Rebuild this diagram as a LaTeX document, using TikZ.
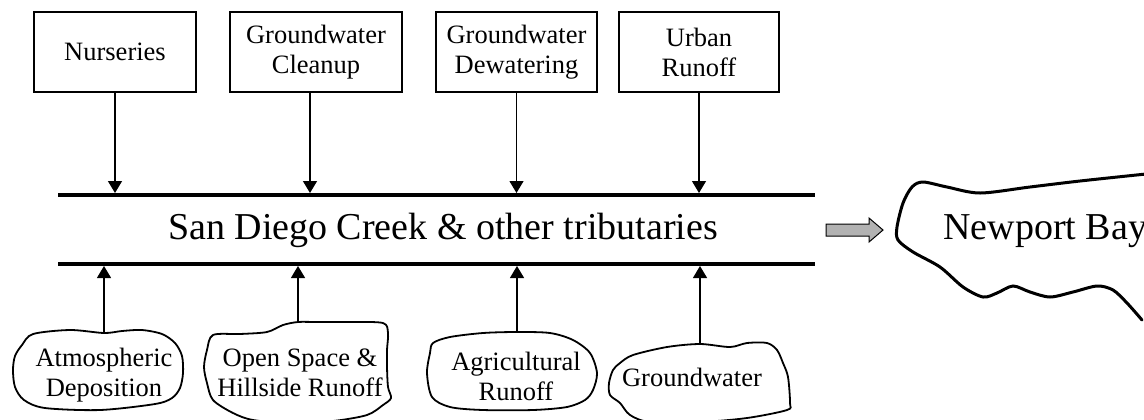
\documentclass[tikz,border=0pt]{standalone}
\usepackage{fontspec}
\setmainfont{Liberation Serif}
\usepackage{tikz}
\usetikzlibrary{arrows.meta}
\newcommand{\smalllabelsize}{\fontsize{13.25pt}{15pt}\selectfont}
\newcommand{\largelabelsize}{\fontsize{19pt}{22pt}\selectfont}
\tikzstyle{source}=[draw, line width=0.6pt, inner sep=0, minimum height=40pt, align=center, font=\smalllabelsize]
\tikzstyle{cloudtext}=[inner sep=0, align=center, font=\smalllabelsize]
\tikzstyle{cloudline}=[line width=0.9pt, line join=round]
\tikzstyle{bayline}=[line width=1.5pt, line cap=round]
\tikzstyle{flow}=[line width=0.6pt, shorten >=1pt, -{Triangle[width=7pt, length=6pt]}]
\tikzstyle{bar}=[line width=2pt]
\tikzstyle{bigarrow}=[draw, line width=0.5pt, fill=black!30, line join=miter]
\tikzstyle{creekdiagram}=[x=0.5pt, y=-0.5pt,
                          % labels carry no padding
                          every node/.style={inner sep=0}]

\begin{document}
\begin{tikzpicture}[creekdiagram]
        \useasboundingbox (0, 0) rectangle (1144, 419);
        % sources on top
        \node[source, minimum width=81pt]   (nurs)  at (115, 52)   {Nurseries};
        \node[source, minimum width=86pt]   (clean) at (316, 52)   {Groundwater\\Cleanup};
        \node[source, minimum width=80.5pt] (dewat) at (516.5, 52) {Groundwater\\Dewatering};
        \node[source, minimum width=80pt]   (urban) at (699, 52)   {Urban\\Runoff};
        % the creek
        \node[font=\largelabelsize] (creek) at (443, 230) {San Diego Creek \& other tributaries};
        \coordinate (barTL) at (58, 195);
        \coordinate (barTR) at (815, 195);
        \coordinate (barBL) at (58, 264);
        \coordinate (barBR) at (815, 264);
        \draw[bar] (barTL) -- (barTR);
        \draw[bar] (barBL) -- (barBR);
        \draw[flow] (nurs.south) -- (nurs.south |- barTL);
        \draw[flow] ([xshift=-3pt]clean.south) -- ([xshift=-3pt]clean.south |- barTL);
        \draw[flow] (dewat.south) -- (dewat.south |- barTL);
        \draw[flow] (urban.south) -- (urban.south |- barTL);
        % sources below
        \node[cloudtext] (atmo) at (104, 375) {Atmospheric\\Deposition};
        \node[cloudtext] (open) at (300, 373) {Open Space \&\\Hillside Runoff};
        \node[cloudtext] (agri) at (516, 376) {Agricultural\\Runoff};
        \node[cloudtext] (gw)   at (692, 377) {Groundwater};
        \draw[cloudline] plot[smooth cycle] coordinates {(33,334) (70,330) (104,333) (122,331) (142,330) (162,334) (175,343) (182,356) (183,373) (180,388) (172,398) (155,404) (100,410) (45,408) (24,400) (15,387) (13,370) (15,356) (22,345)};
        \draw[cloudline] plot[smooth cycle] coordinates {(213,335) (240,334) (267,332) (283,325) (298,322) (317,322) (350,322) (383,323) (388,333) (387,350) (387,367) (388,387) (391,398) (383,405) (367,415) (333,421) (290,423) (253,420) (233,413) (213,400) (207,383) (204,367) (207,350)};
        \draw[cloudline] plot[smooth cycle] coordinates {(433,343) (450,337) (483,333) (517,332) (550,333) (573,340) (590,353) (597,373) (593,390) (585,400) (567,407) (533,410) (483,410) (450,407) (432,397) (427,373) (430,353)};
        \draw[cloudline] plot[smooth cycle] coordinates {(620,363) (633,355) (667,347) (700,344) (730,347) (747,343) (767,343) (777,350) (783,363) (788,377) (790,403) (787,410) (747,418) (700,422) (650,422) (630,415) (620,403) (610,395) (609,383) (613,370)};
        \coordinate (atmotop) at (104, 333);
        \coordinate (opentop) at (298, 322);
        \coordinate (agritop) at (517, 332);
        \coordinate (gwtop)   at (700, 344);
        \draw[flow] (atmotop) -- (atmotop |- barBL);
        \draw[flow] (opentop) -- (opentop |- barBL);
        \draw[flow] (agritop) -- (agritop |- barBL);
        \draw[flow] (gwtop) -- (gwtop |- barBL);
        % into the bay
        \draw[bigarrow] (826, 224) -- ++(43, 0) -- ++(0, -6) -- ++(14, 12) -- ++(-14, 12) -- ++(0, -6) -- ++(-43, 0) -- cycle;
        \node[anchor=base west, font=\largelabelsize] (bay) at (943, 239) {Newport Bay};
        \draw[bayline] plot[smooth] coordinates {(1146,174) (1080,181) (1030,187) (980,193) (947,187) (923,182) (912,187) (903,203) (897,227) (898,240) (913,252) (940,267) (963,287) (983,297) (997,293) (1013,286) (1030,292) (1050,297) (1073,292) (1097,286) (1113,290) (1127,303) (1142,320)};
    \end{tikzpicture}
\end{document}
